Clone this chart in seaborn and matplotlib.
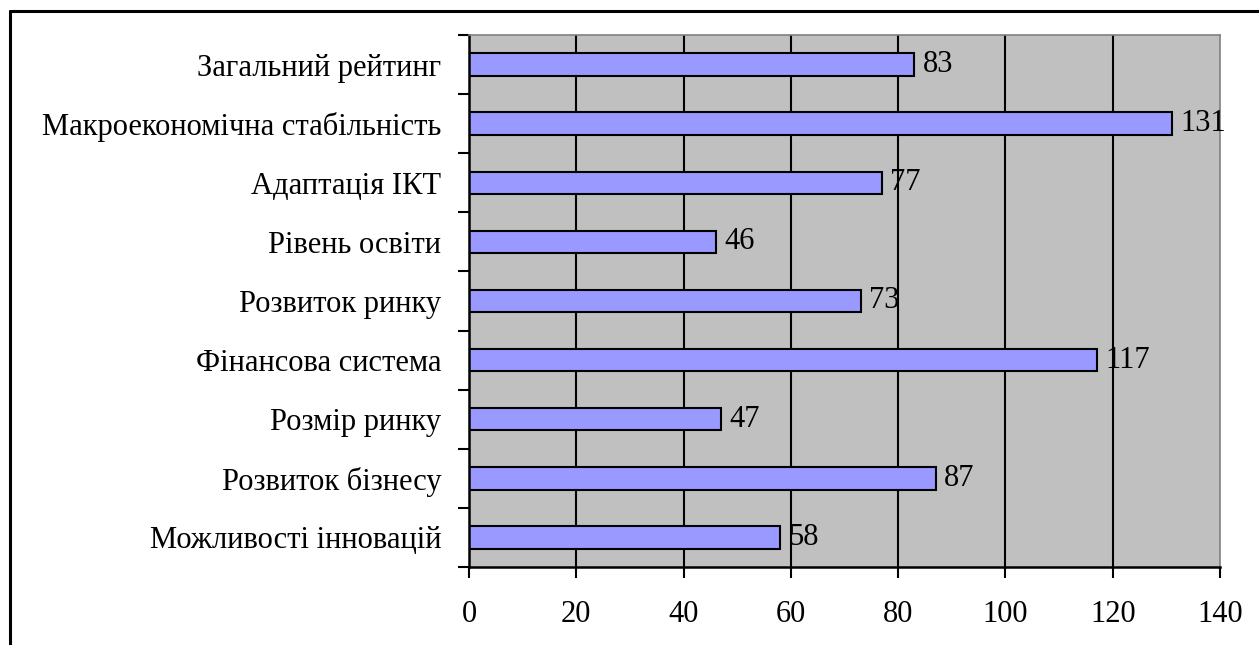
import pandas as pd
import seaborn as sns
import matplotlib.pyplot as plt
from matplotlib.lines import Line2D

categories = [
    "Загальний рейтинг",
    "Макроекономічна стабільність",
    "Адаптація ІКТ",
    "Рівень освіти",
    "Розвиток ринку",
    "Фінансова система",
    "Розмір ринку",
    "Розвиток бізнесу",
    "Можливості інновацій",
]
values = [83, 131, 77, 46, 73, 117, 47, 87, 58]
x_ticks = [0, 20, 40, 60, 80, 100, 120, 140]

df = pd.DataFrame({"category": categories, "value": values})

sns.set_style("white")
plt.rcParams["font.family"] = ["Liberation Serif", "DejaVu Serif"]
plt.rcParams["text.color"] = "black"
plt.rcParams["xtick.color"] = "black"
plt.rcParams["ytick.color"] = "black"
plt.rcParams["xtick.labelcolor"] = "black"
plt.rcParams["ytick.labelcolor"] = "black"
fs = 22

fig = plt.figure(figsize=(12.59, 6.45), dpi=100)
ax = fig.add_axes([469 / 1259, 1 - 567 / 645, (1220 - 469) / 1259, (567 - 35) / 645])

sns.barplot(data=df, x="value", y="category", orient="h", color="#9999FF",
            saturation=1, width=0.38, edgecolor="black", linewidth=1.5, ax=ax)

ax.set_facecolor("#C0C0C0")
ax.set_xlim(0, 140)
ax.set_ylim(8.5, -0.5)
ax.set_xticks(x_ticks)
ax.set_xticklabels([str(t) for t in x_ticks], fontsize=fs)
ax.tick_params(axis="x", length=8, width=1.5, pad=16, direction="out", bottom=True)

# подписи по центру, засечки между категориями
ax.set_yticks(range(len(categories)))
ax.set_yticklabels(categories, fontsize=fs)
ax.set_yticks([i - 0.5 for i in range(len(categories) + 1)], minor=True)
ax.tick_params(axis="y", which="major", length=0, pad=20)
ax.tick_params(axis="y", which="minor", length=8, width=1.5, direction="out", left=True)

ax.set_xlabel("")
ax.set_ylabel("")

for x in x_ticks[1:-1]:
    ax.axvline(x, color="black", linewidth=1.5, zorder=0.5)
ax.set_axisbelow(True)

for side in ["left", "bottom"]:
    ax.spines[side].set_color("black")
    ax.spines[side].set_linewidth(1.8)
for side in ["top", "right"]:
    ax.spines[side].set_color("#808080")
    ax.spines[side].set_linewidth(1.2)

ax.bar_label(ax.containers[0], labels=[str(v) for v in values], padding=6,
             fontsize=fs, color="black")

# рамка вокруг диаграммы
fig.add_artist(Line2D([10 / 1259, 10 / 1259], [0, 1 - 11 / 645], color="black", linewidth=2.2))
fig.add_artist(Line2D([10 / 1259, 1], [1 - 11 / 645, 1 - 11 / 645], color="black", linewidth=2.2))

fig.savefig("out.png", dpi=100)
